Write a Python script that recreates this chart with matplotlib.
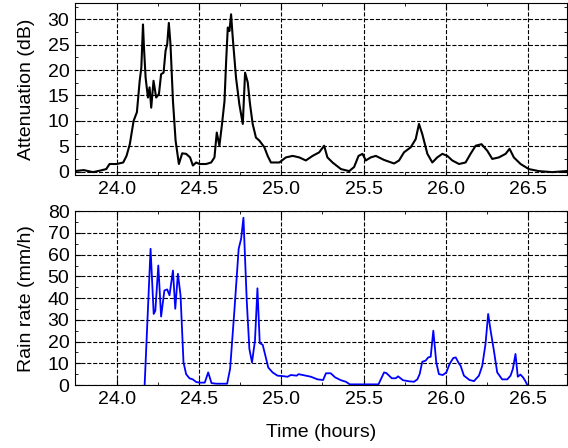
import matplotlib

matplotlib.use("Agg")
import matplotlib.pyplot as plt
from matplotlib.ticker import MultipleLocator

plt.rcParams["font.family"] = ["Liberation Sans", "DejaVu Sans"]
plt.rcParams["font.size"] = 14

# attenuation trace (hours, dB)
att_t = [23.745, 23.80, 23.856, 23.90, 23.937, 23.957, 24.0, 24.04, 24.06, 24.08,
         24.103, 24.123, 24.14, 24.15, 24.16, 24.166, 24.176, 24.19, 24.2, 24.21,
         24.224, 24.24, 24.257, 24.27, 24.285, 24.297, 24.307, 24.317, 24.327, 24.342,
         24.358, 24.378, 24.398, 24.422, 24.446, 24.463, 24.483, 24.503, 24.543, 24.574,
         24.594, 24.608, 24.624, 24.64, 24.655, 24.665, 24.675, 24.685, 24.695, 24.705,
         24.725, 24.745, 24.766, 24.78, 24.796, 24.81, 24.826, 24.846, 24.867, 24.897,
         24.917, 24.937, 24.988, 25.028, 25.069, 25.109, 25.149, 25.19, 25.23, 25.26,
         25.28, 25.311, 25.362, 25.412, 25.442, 25.469, 25.493, 25.513, 25.543, 25.574,
         25.624, 25.685, 25.715, 25.745, 25.786, 25.816, 25.836, 25.856, 25.887, 25.917,
         25.947, 25.978, 26.008, 26.038, 26.079, 26.119, 26.149, 26.18, 26.216, 26.251,
         26.281, 26.321, 26.362, 26.386, 26.412, 26.453, 26.503, 26.564, 26.645, 26.73]
att_db = [0.1, 0.3, -0.1, 0.2, 0.5, 1.5, 1.5, 1.8, 3.1, 5.4,
          10.0, 11.7, 17.9, 20.5, 29.0, 24.4, 18.5, 14.6, 16.6, 12.6,
          17.9, 14.6, 15.3, 19.2, 19.5, 23.8, 25.1, 29.3, 25.1, 13.9,
          6.1, 1.5, 3.6, 3.5, 2.8, 1.2, 1.8, 1.5, 1.5, 1.8,
          2.8, 7.7, 5.1, 9.4, 13.9, 21.8, 28.4, 27.7, 31.0, 26.4,
          18.5, 13.3, 9.4, 19.5, 17.6, 13.3, 9.4, 6.7, 6.1, 4.8,
          3.1, 1.8, 1.8, 2.8, 3.1, 2.8, 2.2, 3.1, 3.8, 5.1,
          2.8, 1.8, 0.5, 0.1, 0.9, 3.1, 3.5, 2.2, 2.8, 3.1,
          2.3, 1.6, 2.2, 3.8, 4.8, 6.4, 9.4, 7.4, 3.5, 1.8,
          2.8, 3.5, 3.1, 2.2, 1.5, 1.8, 3.5, 5.1, 5.4, 4.1,
          2.5, 2.8, 3.5, 4.5, 2.8, 1.5, 0.5, 0.1, -0.1, 0.1]

# rain rate trace (hours, mm/h)
rain_t = [24.17, 24.206, 24.225, 24.235, 24.253, 24.27, 24.29, 24.307, 24.321, 24.342,
          24.356, 24.372, 24.388, 24.406, 24.422, 24.442, 24.462, 24.483, 24.503, 24.535,
          24.556, 24.576, 24.604, 24.671, 24.689, 24.715, 24.741, 24.756, 24.77, 24.79,
          24.806, 24.822, 24.84, 24.855, 24.869, 24.887, 24.921, 24.947, 24.977, 25.008,
          25.038, 25.058, 25.093, 25.105, 25.149, 25.18, 25.22, 25.254, 25.271, 25.3,
          25.327, 25.362, 25.392, 25.416, 25.463, 25.59, 25.624, 25.638, 25.671, 25.695,
          25.709, 25.739, 25.776, 25.806, 25.826, 25.84, 25.856, 25.876, 25.892, 25.907,
          25.923, 25.941, 25.957, 25.981, 26.002, 26.022, 26.044, 26.059, 26.075, 26.089,
          26.109, 26.143, 26.17, 26.2, 26.22, 26.24, 26.256, 26.271, 26.291, 26.311,
          26.341, 26.372, 26.392, 26.406, 26.422, 26.436, 26.452, 26.468, 26.482, 26.494]
rain_mmh = [0.0, 62.7, 32.7, 34.2, 55.0, 31.5, 43.5, 44.0, 41.3, 52.7,
            35.1, 51.2, 41.3, 10.4, 5.0, 3.1, 2.6, 1.4, 1.1, 1.1,
            5.8, 0.9, 0.6, 0.6, 7.4, 34.2, 62.7, 67.3, 77.0, 38.9,
            16.6, 10.4, 20.4, 44.5, 19.3, 18.5, 8.0, 5.8, 4.3, 4.1,
            3.8, 4.6, 4.3, 5.0, 4.3, 3.8, 2.6, 2.3, 5.4, 5.4,
            3.5, 2.2, 1.5, 0.3, 0.3, 0.3, 5.8, 5.5, 3.1, 3.1,
            4.0, 2.2, 1.7, 1.5, 2.6, 5.0, 10.7, 11.2, 12.7, 13.0,
            25.0, 10.4, 5.0, 4.6, 5.8, 9.7, 12.4, 12.7, 10.4, 8.8,
            4.3, 2.3, 1.8, 4.3, 8.8, 18.9, 32.7, 25.0, 15.8, 5.8,
            2.6, 2.6, 4.3, 7.4, 14.3, 3.8, 4.8, 3.5, 1.8, 0.0]

fig = plt.figure(figsize=(5.68, 4.48), dpi=100)
ax1 = fig.add_axes([0.132, 0.609, 0.866, 0.384])
ax2 = fig.add_axes([0.132, 0.1406, 0.866, 0.388])

ax1.plot(att_t, att_db, color="black", lw=1.5)
ax2.plot(rain_t, rain_mmh, color="blue", lw=1.3)

for ax in (ax1, ax2):
    ax.set_xlim(23.747, 26.734)
    ax.xaxis.set_major_locator(MultipleLocator(0.5))
    ax.xaxis.set_minor_locator(MultipleLocator(0.25))
    ax.xaxis.set_major_formatter(plt.FormatStrFormatter("%.1f"))
    ax.grid(True, which="major", color="black", linestyle="--", linewidth=0.8)
    ax.tick_params(which="both", direction="in", top=True, right=True)
    ax.tick_params(which="major", length=4, pad=4)
    ax.tick_params(which="minor", length=2.5)

ax1.set_ylim(-0.7, 33.2)
ax1.yaxis.set_major_locator(MultipleLocator(5))
ax1.yaxis.set_minor_locator(MultipleLocator(2.5))
ax1.set_ylabel("Attenuation (dB)", labelpad=9)

ax2.set_ylim(0, 80)
ax2.yaxis.set_major_locator(MultipleLocator(10))
ax2.yaxis.set_minor_locator(MultipleLocator(5))
ax2.set_ylabel("Rain rate (mm/h)", labelpad=9)
ax2.set_xlabel("Time (hours)", labelpad=12)

fig.savefig("out.png", dpi=100)
plt.close(fig)
